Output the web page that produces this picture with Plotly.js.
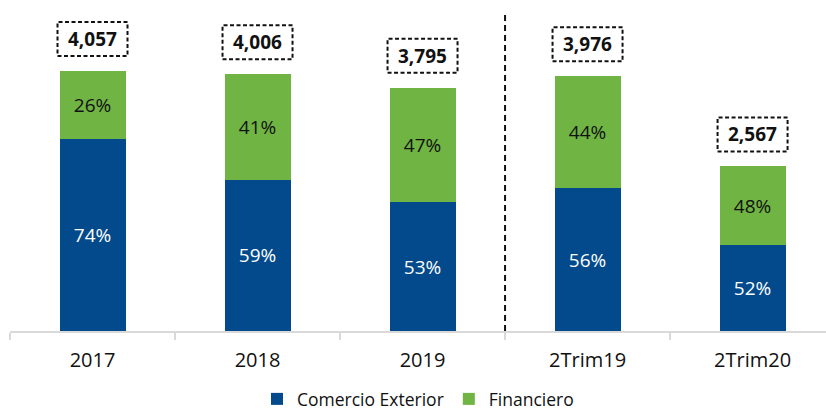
<!DOCTYPE html>
<html>
<head>
<meta charset="utf-8">
<script src="https://cdn.plot.ly/plotly-3.0.1.min.js"></script>
<style>html,body{margin:0;padding:0;background:#fff;}#chart{width:826px;height:411px;}</style>
</head>
<body>
<div id="chart"></div>
<script>
const categories = ["2017", "2018", "2019", "2Trim19", "2Trim20"];
const totals = [4057, 4006, 3795, 3976, 2567];
const totalLabels = ["4,057", "4,006", "3,795", "3,976", "2,567"];
const comercioPct = [74, 59, 53, 56, 52];
const financieroPct = [26, 41, 47, 44, 48];

const comercioVals = totals.map((t, i) => t * comercioPct[i] / 100);
const financieroVals = totals.map((t, i) => t * financieroPct[i] / 100);

const FONT = "'Open Sans', 'Noto Sans', sans-serif";

const traces = [
  {
    type: "bar", name: "Comercio Exterior", x: categories, y: comercioVals,
    marker: {color: "#024A8C"},
    text: comercioPct.map(v => v + "%"), texttemplate: "%{text}",
    textposition: "inside", insidetextanchor: "middle",
    textfont: {color: "#ffffff", size: 19, family: FONT},
    hoverinfo: "none"
  },
  {
    type: "bar", name: "Financiero", x: categories, y: financieroVals,
    marker: {color: "#70B443"},
    text: financieroPct.map(v => v + "%"), texttemplate: "%{text}",
    textposition: "inside", insidetextanchor: "middle",
    textfont: {color: "#111111", size: 19, family: FONT},
    hoverinfo: "none"
  }
];

const shapes = totals.map((t, i) => ({
  type: "rect", xref: "x", yref: "y",
  xsizemode: "pixel", xanchor: i, x0: -35, x1: 35,
  ysizemode: "pixel", yanchor: t, y0: 15, y1: 49,
  line: {color: "#111111", width: 2, dash: "4px,2.5px"},
  fillcolor: "rgba(0,0,0,0)"
}));
shapes.push({
  type: "line", xref: "x", yref: "paper",
  x0: 2.5, x1: 2.5, y0: 0, y1: 0.958,
  line: {color: "#111111", width: 2, dash: "6px,4px"}
});

const annotations = totals.map((t, i) => ({
  x: i, y: t, xref: "x", yref: "y",
  text: "<b>" + totalLabels[i] + "</b>",
  showarrow: false, yshift: 32,
  font: {size: 19, color: "#111111", family: FONT}
}));

const layout = {
  width: 826, height: 411,
  margin: {l: 10, r: 0, t: 0, b: 80, autoexpand: false},
  paper_bgcolor: "#ffffff", plot_bgcolor: "#ffffff",
  barmode: "stack", bargap: 0.6,
  showlegend: true,
  legend: {orientation: "h", x: 0.5, xanchor: "center", y: -68/331, yanchor: "middle",
           font: {size: 17.5, family: FONT, color: "#111111"}, traceorder: "normal",
           itemwidth: 30},
  xaxis: {
    type: "category", range: [-0.5, 4.445],
    showline: true, linecolor: "#D9D9D9", linewidth: 1.5,
    ticks: "outside", tickson: "boundaries", ticklen: 7, tickcolor: "#D9D9D9", tickwidth: 1.5,
    tickfont: {size: 20, family: FONT, color: "#111111"},
    ticklabelstandoff: 10,
    showgrid: false, zeroline: false, fixedrange: true
  },
  yaxis: {range: [0, 5164], visible: false, showgrid: false, zeroline: false, fixedrange: true},
  shapes: shapes,
  annotations: annotations,
  font: {family: FONT}
};

Plotly.newPlot("chart", traces, layout, {displayModeBar: false, staticPlot: true});
</script>
</body>
</html>
